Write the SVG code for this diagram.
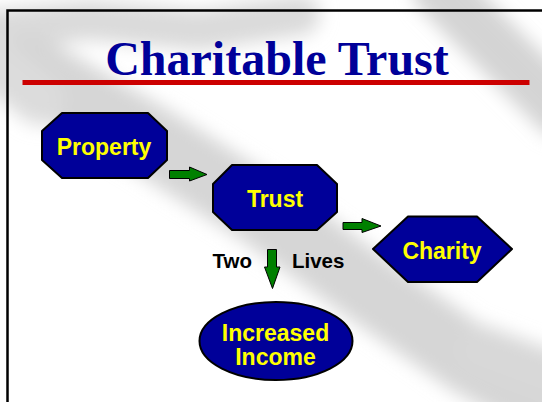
<svg xmlns="http://www.w3.org/2000/svg" width="542" height="402" viewBox="0 0 542 402">
<defs>
<filter id="blur" x="-20%" y="-20%" width="140%" height="140%"><feGaussianBlur stdDeviation="9"/></filter>
<style>
.node{fill:#000099;stroke:#000;stroke-width:2;stroke-linejoin:round}
.lbl{font-family:"Liberation Sans",Arial,sans-serif;font-weight:bold;font-size:23px;fill:#ffff00;text-anchor:middle}
.arr{fill:#008000;stroke:#000;stroke-width:1;stroke-linejoin:miter}
.side{font-family:"Liberation Sans",Arial,sans-serif;font-weight:bold;font-size:20.5px;fill:#000}
</style>
</defs>
<rect width="542" height="402" fill="#ffffff"/>
<g id="background" filter="url(#blur)" fill="none" stroke-linecap="round">
<path d="M-10 30 L90 20 L200 30 L300 15" stroke="#dadada" stroke-width="40"/>
<path d="M30 70 L150 140 L260 210 L370 290 L470 360 L560 410" stroke="#d6d6d6" stroke-width="70"/>
<path d="M440 -10 L500 50 L560 110" stroke="#d4d4d4" stroke-width="55"/>
<path d="M480 350 L560 380" stroke="#d8d8d8" stroke-width="50"/>
<path d="M-10 60 L40 100" stroke="#dcdcdc" stroke-width="50"/>
</g>
<g id="frame" fill="none" stroke="#000" stroke-width="2.5">
<path d="M7.5 402 L7.5 10.5 L542 10.5"/>
</g>
<g id="title">
<text x="277" y="75" font-family="'Liberation Serif','Times New Roman',serif" font-weight="bold" font-size="48" fill="#000099" text-anchor="middle">Charitable Trust</text>
<rect x="22.5" y="80" width="507" height="5" fill="#cc0000"/>
</g>
<g id="connectors">
<polygon class="arr" points="169.5,170.5 189.5,170.5 189.5,167 207,174.5 189.5,181 189.5,178.5 169.5,178.5"/>
<polygon class="arr" points="343,222.5 362,222.5 362,218.5 381,226 362,232.5 362,229.5 343,229.5"/>
<polygon class="arr" points="267.5,249.5 276.5,249.5 276.5,267 280,267 272.5,288.5 264.5,267 267.5,267"/>
</g>
<g id="label-two-lives">
<text class="side" x="212.6" y="268.3">Two</text>
<text class="side" x="292" y="268.3">Lives</text>
</g>
<g id="node-property">
<polygon class="node" points="62,113 148,113 167,131 167,160 148,178 62,178 42,160 42,131"/>
<text class="lbl" x="104" y="155">Property</text>
</g>
<g id="node-trust">
<polygon class="node" points="232,165 317,165 337,184 337,212 317,230 232,230 213,212 213,184"/>
<text class="lbl" x="275" y="206.5">Trust</text>
</g>
<g id="node-charity">
<polygon class="node" points="373,249 408,216.5 477,216.5 512,249 477,282 408,282"/>
<text class="lbl" x="442" y="258.5">Charity</text>
</g>
<g id="node-income">
<ellipse class="node" cx="276" cy="341" rx="76.5" ry="39"/>
<text class="lbl" x="275.5" y="341">Increased</text>
<text class="lbl" x="275.5" y="365">Income</text>
</g>
</svg>
